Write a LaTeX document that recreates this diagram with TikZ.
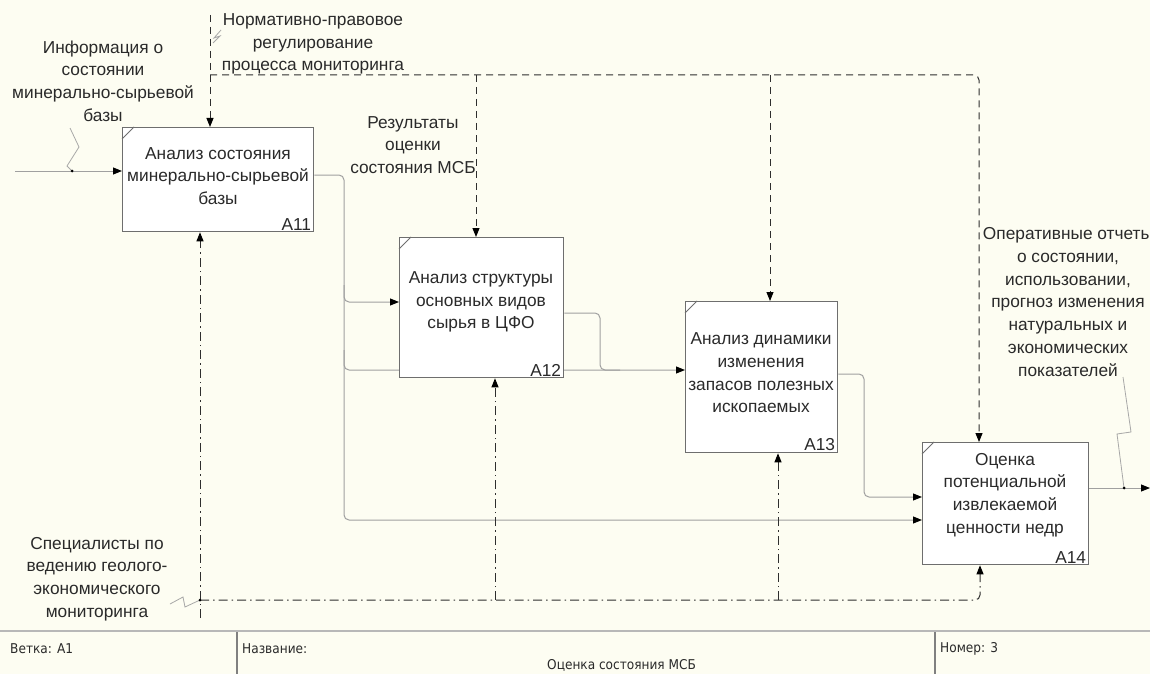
\documentclass[tikz,border=0pt]{standalone}
\usepackage{fontspec}
\setmainfont{Liberation Sans}
\newfontfamily\footfont{DejaVu Sans Condensed}
\usetikzlibrary{arrows.meta,backgrounds}
\definecolor{bg}{HTML}{FDFDF2}
\definecolor{boxc}{HTML}{6E6E6E}
\definecolor{ioc}{HTML}{A0A0A0}
\definecolor{ctlc}{HTML}{2E2E2E}
\definecolor{txtc}{HTML}{2A2A2A}
\definecolor{zigc}{HTML}{A8A8A8}
\tikzset{
  fnt/.style={font=\fontsize{17.3}{22.7}\selectfont},
  actbox/.style={draw=boxc, fill=white, line width=1.3pt, anchor=north west, inner sep=0pt},
  boxtxt/.style={fnt, text=txtc, align=center, inner sep=0pt},
  boxid/.style={fnt, text=txtc, anchor=south east, inner xsep=3pt, inner ysep=2pt},
  lbl/.style={fnt, text=txtc, align=center, inner sep=0pt},
  ftxt/.style={font=\footfont\fontsize{13.5}{15}\selectfont, text=txtc, inner sep=0pt},
  tip/.style={-{Triangle[length=9pt,width=7pt,color=black]}},
  io/.style={draw=ioc, line width=1pt, rounded corners=5pt},
  ctl/.style={draw=ctlc, line width=1pt, dash pattern=on 7pt off 5pt, rounded corners=5pt},
  mech/.style={draw=ctlc, line width=1pt, dash pattern=on 9pt off 4pt on 1.5pt off 4pt, rounded corners=5pt},
  zig/.style={draw=zigc, line width=0.8pt},
  hframe/.style={draw=black!28, line width=2.6pt},
  vframe/.style={draw=black!50, line width=1.8pt},
}
\begin{document}
\begin{tikzpicture}[x=1pt,y=-1pt]
\useasboundingbox (0,0) rectangle (1150,674);

% activity boxes
\node[actbox, minimum width=191pt, minimum height=104pt] (a11) at (122,127) {};
\node[actbox, minimum width=164pt, minimum height=140pt] (a12) at (399,237) {};
\node[actbox, minimum width=152pt, minimum height=151pt] (a13) at (685,301) {};
\node[actbox, minimum width=166pt, minimum height=122pt] (a14) at (922,442) {};
\node[boxtxt] (t11) at (218,176) {Анализ состояния\\минерально-сырьевой\\базы};
\node[boxtxt] (t12) at (481,302) {Анализ структуры\\основных видов\\сырья в ЦФО};
\node[boxtxt] (t13) at (761,373) {Анализ динамики\\изменения\\запасов полезных\\ископаемых};
\node[boxtxt] (t14) at (1005,495) {Оценка\\потенциальной\\извлекаемой\\ценности недр};
\node[boxid] (i11) at (a11.south east) {A11};
\node[boxid] (i12) at (a12.south east) {A12};
\node[boxid] (i13) at (a13.south east) {A13};
\node[boxid] (i14) at (a14.south east) {A14};
\foreach \b in {a11,a12,a13,a14}{
  \draw[boxc, line width=0.9pt] ([yshift=-12pt]\b.north west) -- ([xshift=12pt]\b.north west);
}

% labels
\node[lbl] (linfo) at (103,81) {Информация о\\состоянии\\минерально-сырьевой\\базы};
\node[lbl] (lnorm) at (313,44) {Нормативно-правовое\\регулирование\\процесса мониторинга};
\node[lbl] (lres) at (413,145) {Результаты\\оценки\\состояния МСБ};
\node[lbl] (lops) at (1068,302) {Оперативные отчеты\\о состоянии,\\использовании,\\прогноз изменения\\натуральных и\\экономических\\показателей};
\node[lbl] (lspec) at (97,579) {Специалисты по\\ведению геолого-\\экономического\\мониторинга};

% footer
\node[ftxt, anchor=west] (fb) at (10,649) {Ветка: A1};
\node[ftxt, anchor=west] (fn) at (242,649) {Название:};
\node[ftxt, anchor=west] (ft) at (547,665) {Оценка состояния МСБ};
\node[ftxt, anchor=west] (fnum) at (940,649) {Номер: 3};

% coordinates
\coordinate (inS) at (15,171);
\coordinate (inD) at (72,171);
\coordinate (y175) at (0,175);
\coordinate (y302) at (0,302);
\coordinate (y313) at (0,313);
\coordinate (y370) at (0,370);
\coordinate (y374) at (0,374);
\coordinate (y497) at (0,497);
\coordinate (y520) at (0,520);
\coordinate (y488) at (0,488);
\coordinate (outE) at (1150,488);
\coordinate (outD) at (1124,488);
\coordinate (cS) at (210,15);
\coordinate (cJ) at (210,75);
\coordinate (c12) at (476,75);
\coordinate (c13) at (770,75);
\coordinate (c14) at (979,75);
\coordinate (mS) at (200,618);
\coordinate (mJ) at (200,600);
\coordinate (m12) at (495,600);
\coordinate (m13) at (778,600);
\coordinate (m14) at (980,600);

\begin{pgfonlayer}{background}
\fill[bg] (0,0) rectangle (1150,674);
% inputs / outputs
\draw[io, tip] (inS) -- (a11.west |- inS);
\draw[io, tip] (a11.east |- y175) -- (344,175) -- (344,520) -- (a14.west |- y520);
\draw[io, tip] (344,285) |- (a12.west |- y302);
\draw[io, tip] (344,350) |- (a13.west |- y370);
\draw[io] (a12.east |- y313) -- (600,313) -- (600,370) -- (620,370);
\draw[io, tip] (a13.east |- y374) -- (864,374) -- (864,497) -- (a14.west |- y497);
\draw[io, tip] (a14.east |- y488) -- (outE);
% controls
\draw[ctl, tip] (cS) -- (a11.north -| cS);
\draw[ctl, tip] (cJ) -- (c14) -- (a14.north -| c14);
\draw[ctl, tip] (c12) -- (a12.north -| c12);
\draw[ctl, tip] (c13) -- (a13.north -| c13);
% mechanisms
\draw[mech, tip] (mS) -- (a11.south -| mS);
\draw[mech, tip] (mJ) -- (m14) -- (a14.south -| m14);
\draw[mech, tip] (m12) -- (a12.south -| m12);
\draw[mech, tip] (m13) -- (a13.south -| m13);
% label squiggles
\draw[zig] (70,128) -- (79,147) -- (67,166) -- (inD);
\draw[zig] (213,43) -- (220,36) -- (214,38) -- (221,30);
\draw[zig] (1123,377) -- (1131,432) -- (1117,434) -- (outD);
\draw[zig] (170,604) -- (183,597) -- (185,607) -- (mJ);
% footer frame
\draw[hframe] (0,631) -- (1150,631);
\draw[vframe] (237,632) -- (237,674);
\draw[vframe] (935,632) -- (935,674);
\end{pgfonlayer}
\fill[black] (inD) circle (1.5pt);
\fill[black] (outD) circle (1.5pt);
\fill[black] (mJ) circle (1.5pt);
\end{tikzpicture}
\end{document}
